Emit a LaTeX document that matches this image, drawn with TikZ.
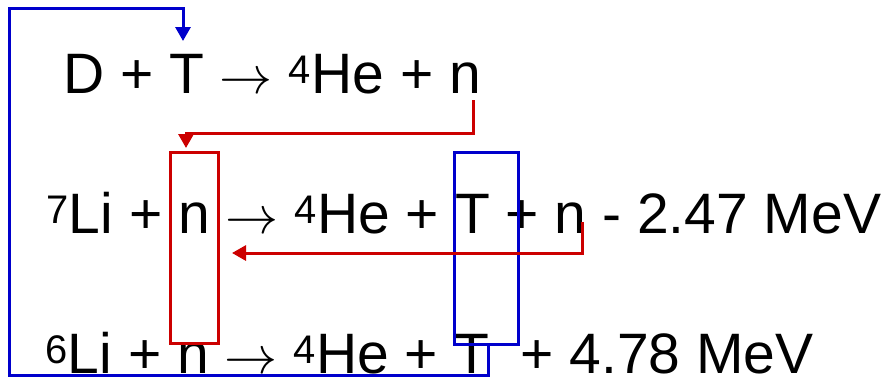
\documentclass[tikz,border=0pt]{standalone}
\usepackage{graphicx}
\usepackage{fontspec}
\setmainfont{Liberation Sans}
\usetikzlibrary{arrows.meta}
\definecolor{myblue}{RGB}{0,0,204}
\definecolor{myred}{RGB}{204,0,0}
\newcommand{\rarr}{\resizebox{53pt}{!}{\fontsize{10}{12}\selectfont$\rightarrow$}}
\begin{document}
\begin{tikzpicture}[x=1pt,y=-1pt,
  eq/.style={anchor=base west,inner sep=0pt,font=\fontsize{57}{68}\selectfont},
  redbox/.style={draw=myred,line width=3pt,minimum width=48pt,minimum height=191pt,inner sep=0pt},
  bluebox/.style={draw=myblue,line width=3pt,minimum width=64pt,minimum height=192pt,inner sep=0pt},
  redarrow/.style={draw=myred,line width=3pt,-{Triangle[width=15pt,length=14pt]}},
  bluearrow/.style={draw=myblue,line width=3pt,-{Triangle[width=15pt,length=14pt]}}]
\useasboundingbox (0,0) rectangle (885,376);
\node[eq] (l1) at (63,93) {D + T \rarr{} \textsuperscript{4}He + n};
\node[eq] (l2) at (46,233) {\textsuperscript{7}Li + n \rarr{} \textsuperscript{4}He + T + n - 2.47 MeV};
\node[eq] (l3) at (45,373) {\textsuperscript{6}Li + n \rarr{} \textsuperscript{4}He + T \ + 4.78 MeV};
\node[redbox] (nbox) at (194,247.5) {};
\node[bluebox] (tbox) at (486,248) {};
\coordinate (n1) at (473,100);
\coordinate (r1tip) at (186,148);
\coordinate (n2) at (582,222);
\coordinate (r2tip) at (232,253);
\coordinate (t1) at (183,41);
\draw[redarrow] (n1) |- (r1tip |- 0,133) -- (r1tip);
\draw[redarrow] (n2) |- (r2tip);
\draw[bluearrow] (tbox.south -| 488,0) -- (488,375) -- (9,375) -- (9,8) -- (t1 |- 0,8) -- (t1);
\end{tikzpicture}
\end{document}
